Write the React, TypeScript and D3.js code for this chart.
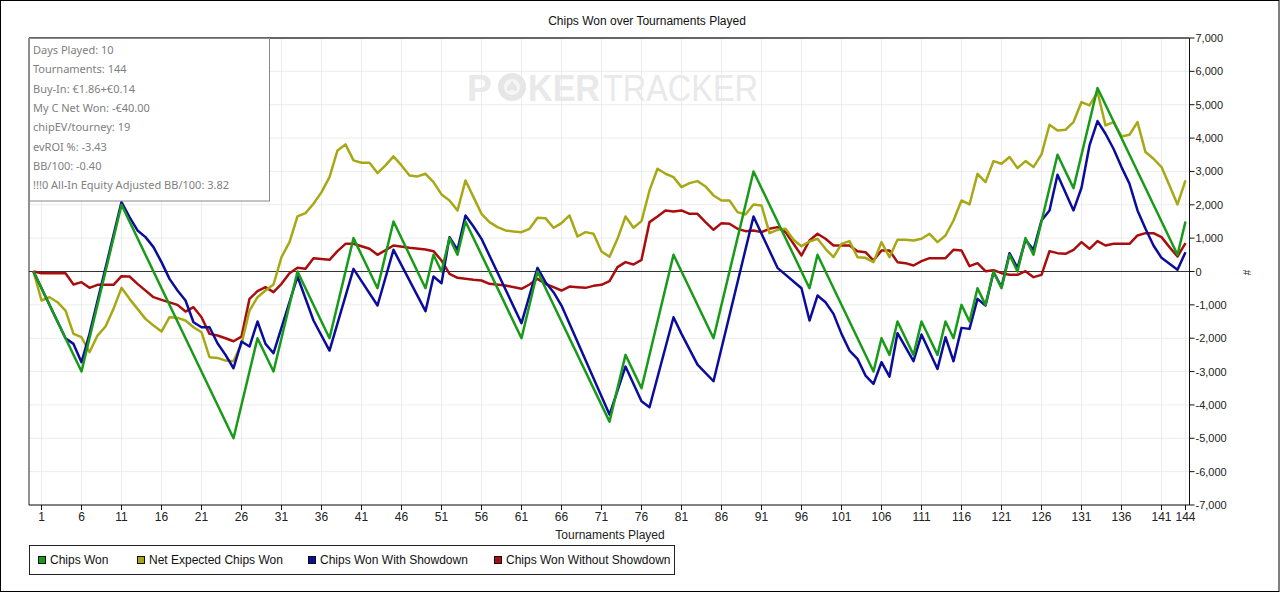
import * as d3 from 'd3';
import React from 'react';

type Pt = [number, number];

// tournament index, chips
const chipsWon: Pt[] = [
    [0, 0], [6, -3000], [11, 2000], [25, -5000], [28, -2000], [30, -3000], [33, 0], [37, -2000],
    [40, 1000], [43, -500], [45, 1500], [49, -500], [50, 500], [51, 0], [52, 1000], [53, 500],
    [54, 1500], [61, -2000], [63, 0], [72, -4500], [74, -2500], [76, -3500], [80, 500], [85, -2000],
    [90, 3000], [97, -500], [98, 500], [105, -3000], [106, -2000], [107, -2500], [108, -1500],
    [110, -2500], [111, -1500], [113, -2500], [114, -1500], [115, -2000], [116, -1000], [117, -1500],
    [118, -500], [119, -1000], [120, 0], [121, -500], [122, 500], [123, 0], [124, 1000], [125, 500],
    [128, 3500], [130, 2500], [133, 5500], [143, 500], [144, 1500],
];

const netExpected: Pt[] = [
    [0, 0], [1, -870], [2, -770], [3, -920], [4, -1170], [5, -1870], [6, -1970], [7, -2420],
    [8, -1920], [9, -1650], [10, -1120], [11, -490], [12, -820], [13, -1120], [14, -1420],
    [15, -1620], [16, -1800], [17, -1370], [18, -1390], [19, -1470], [20, -1670], [21, -1820],
    [22, -2570], [23, -2590], [24, -2670], [25, -2690], [26, -2170], [27, -1170], [28, -770],
    [29, -570], [30, -390], [31, 430], [32, 880], [33, 1650], [34, 1750], [35, 2030], [36, 2380],
    [37, 2830], [38, 3630], [39, 3810], [40, 3330], [41, 3260], [42, 3260], [43, 2950], [44, 3180],
    [45, 3450], [46, 3180], [47, 2880], [48, 2850], [49, 2930], [50, 2680], [51, 2310], [52, 2130],
    [53, 1830], [54, 2730], [55, 2230], [56, 1730], [57, 1480], [58, 1330], [59, 1230], [60, 1200],
    [61, 1180], [62, 1280], [63, 1610], [64, 1600], [65, 1310], [66, 1450], [67, 1680], [68, 1050],
    [69, 1180], [70, 1130], [71, 600], [72, 440], [73, 980], [74, 1650], [75, 1310], [76, 1510],
    [77, 2430], [78, 3080], [79, 2930], [80, 2830], [81, 2530], [82, 2650], [83, 2710], [84, 2550],
    [85, 2280], [86, 2130], [87, 2130], [88, 1780], [89, 1710], [90, 2010], [91, 1980], [92, 1150],
    [93, 1250], [94, 1280], [95, 950], [96, 760], [97, 900], [98, 980], [99, 680], [100, 430],
    [101, 830], [102, 910], [103, 430], [104, 410], [105, 280], [106, 880], [107, 430], [108, 950],
    [109, 950], [110, 930], [111, 980], [112, 1130], [113, 880], [114, 1080], [115, 1530],
    [116, 2130], [117, 2010], [118, 2930], [119, 2680], [120, 3310], [121, 3230], [122, 3430],
    [123, 3100], [124, 3310], [125, 3130], [126, 3510], [127, 4400], [128, 4230], [129, 4250],
    [130, 4480], [131, 5080], [132, 4980], [133, 5380], [134, 4380], [135, 4480], [136, 4050],
    [137, 4100], [138, 4480], [139, 3580], [140, 3380], [141, 3130], [142, 2580], [143, 2010],
    [144, 2730],
];

const withShowdown: Pt[] = [
    [0, 0], [4, -2000], [5, -2170], [6, -2720], [7, -1870], [11, 2080], [12, 1630], [13, 1230],
    [14, 1030], [15, 730], [16, 280], [17, -220], [18, -570], [19, -870], [20, -1520], [21, -1670],
    [22, -1670], [23, -2150], [24, -2500], [25, -2900], [26, -2100], [27, -2250], [28, -1500],
    [29, -2170], [30, -2450], [33, -150], [35, -1470], [37, -2370], [40, 80], [43, -1020],
    [45, 650], [49, -1190], [50, -150], [51, -350], [52, 1030], [53, 650], [54, 1680], [55, 1350],
    [56, 980], [61, -1550], [63, 110], [64, -320], [65, -620], [66, -1020], [72, -4290],
    [74, -2850], [76, -3890], [77, -4070], [80, -1370], [81, -1870], [83, -2790], [85, -3290],
    [90, 1650], [93, 110], [96, -500], [97, -1470], [98, -720], [99, -920], [100, -1270],
    [101, -1870], [102, -2370], [103, -2620], [104, -3120], [105, -3370], [106, -2720],
    [107, -3150], [108, -1850], [110, -2690], [111, -1890], [113, -2920], [114, -1970],
    [115, -2690], [116, -1690], [117, -1720], [118, -820], [119, -1020], [120, -20], [121, -470],
    [122, 550], [123, 110], [124, 950], [125, 650], [126, 1530], [127, 1830], [128, 2900],
    [130, 1830], [131, 2510], [132, 3780], [133, 4510], [134, 4130], [135, 3680], [136, 3130],
    [137, 2630], [138, 1830], [139, 1280], [140, 780], [141, 410], [142, 230], [143, 50], [144, 580],
];

const withoutShowdown: Pt[] = [
    [0, 0], [1, -50], [4, -50], [5, -390], [6, -320], [7, -490], [8, -400], [10, -400], [11, -140],
    [12, -150], [13, -370], [15, -770], [16, -850], [18, -1000], [19, -1200], [20, -1070],
    [21, -1370], [22, -1870], [23, -1920], [24, -2000], [25, -2090], [26, -1950], [27, -820],
    [28, -590], [29, -470], [30, -620], [31, -370], [32, -50], [33, 110], [34, 80], [35, 400],
    [37, 350], [38, 610], [39, 830], [40, 830], [42, 680], [43, 500], [45, 780], [47, 710],
    [49, 660], [50, 610], [51, 330], [52, -70], [53, -190], [55, -250], [56, -270], [57, -370],
    [59, -420], [61, -520], [62, -390], [63, -220], [64, -370], [65, -470], [66, -570], [67, -450],
    [68, -470], [69, -490], [70, -430], [71, -400], [72, -290], [73, 130], [74, 280], [75, 210],
    [76, 350], [77, 1480], [78, 1650], [79, 1830], [80, 1800], [81, 1830], [82, 1730], [83, 1730],
    [84, 1480], [85, 1250], [86, 1450], [87, 1430], [88, 1280], [89, 1210], [90, 1230], [91, 1180],
    [92, 1280], [93, 1330], [94, 1180], [95, 830], [96, 480], [97, 930], [98, 1130], [99, 980],
    [100, 780], [102, 780], [103, 610], [104, 580], [105, 330], [106, 630], [107, 630], [108, 280],
    [109, 250], [110, 180], [111, 310], [112, 400], [114, 400], [115, 650], [116, 630], [117, 160],
    [118, 250], [119, 10], [120, 40], [121, -50], [122, -100], [123, -100], [124, 10], [125, -170],
    [126, -100], [127, 610], [128, 550], [129, 530], [130, 650], [131, 880], [132, 680], [133, 910],
    [134, 780], [135, 830], [137, 830], [138, 1080], [139, 1150], [140, 1150], [141, 1030],
    [142, 730], [143, 450], [144, 850],
];

const xTicks = [1, 6, 11, 16, 21, 26, 31, 36, 41, 46, 51, 56, 61, 66, 71, 76, 81, 86, 91, 96, 101, 106, 111, 116, 121, 126, 131, 136, 141, 144];
const yTicks = [-7000, -6000, -5000, -4000, -3000, -2000, -1000, 0, 1000, 2000, 3000, 4000, 5000, 6000, 7000];

const infoLines = [
    'Days Played: 10',
    'Tournaments: 144',
    'Buy-In: €1.86+€0.14',
    'My C Net Won: -€40.00',
    'chipEV/tourney: 19',
    'evROI %: -3.43',
    'BB/100: -0.40',
    '!!!0 All-In Equity Adjusted BB/100: 3.82',
];

const series = [
    { name: 'Chips Won', colour: '#1a9a1a', data: chipsWon, legendX: 38 },
    { name: 'Net Expected Chips Won', colour: '#a8a816', data: netExpected, legendX: 137 },
    { name: 'Chips Won With Showdown', colour: '#0c0c9c', data: withShowdown, legendX: 308 },
    { name: 'Chips Won Without Showdown', colour: '#aa0d0d', data: withoutShowdown, legendX: 494 },
];
const drawOrder = [3, 1, 2, 0];

const W = 1280;
const H = 593;
const left = 29;
const right = 1189.5;
const top = 38;
const bottom = 505;

const font = '"Liberation Sans", Arial, sans-serif';

const App = () => {
    const x = d3.scaleLinear().domain([0, 144]).range([33.5, 1185.5]);
    const y = d3.scaleLinear().domain([-7000, 7000]).range([bottom, top]);
    const fmt = d3.format(',');
    const line = d3.line<Pt>().x((d) => x(d[0])).y((d) => y(d[1]));

    return (
        <div style={{ position: 'absolute', left: 0, top: 0 }}>
            <svg width={W} height={H} style={{ display: 'block' }}>
                <rect x={0} y={0} width={W} height={H} fill="#fff" />
                <rect x={0.5} y={0.5} width={1278.5} height={591} fill="none" stroke="#000" />

                <text x={647} y={25} textAnchor="middle" fontFamily={font} fontSize={12} fill="#111">
                    Chips Won over Tournaments Played
                </text>

                {/* grid */}
                {xTicks.map((t) => (
                    <line key={'gx' + t} x1={x(t)} x2={x(t)} y1={top} y2={bottom} stroke="#ececec" />
                ))}
                {yTicks.map((v) => (
                    <line key={'gy' + v} x1={left} x2={right} y1={y(v)} y2={y(v)} stroke="#ececec" />
                ))}

                {/* watermark */}
                <g fill="#e9e9e9" fontFamily={font} fontSize={37}>
                    <text x={467} y={101} fontWeight="bold">P</text>
                    <circle cx={512} cy={87} r={14} fill="#e6e6e6" />
                    <circle cx={512} cy={87} r={8} fill="#f6f6f6" />
                    <path d="M512,81 C509,85 506,87 507,90 C508,92 511,91 512,89 C513,91 516,92 517,90 C518,87 515,85 512,81 Z" fill="#e6e6e6" />
                    <text x={528} y={101} fontWeight="bold" textLength={72} lengthAdjust="spacingAndGlyphs">KER</text>
                    <text x={603} y={101} textLength={155} lengthAdjust="spacingAndGlyphs">TRACKER</text>
                </g>

                {/* zero line */}
                <line x1={left} x2={right} y1={y(0)} y2={y(0)} stroke="#333" />

                {/* series */}
                {drawOrder.map((i) => (
                    <path
                        key={series[i].name}
                        d={line(series[i].data) || ''}
                        fill="none"
                        stroke={series[i].colour}
                        strokeWidth={2.5}
                        strokeLinejoin="round"
                    />
                ))}

                {/* plot frame */}
                <line x1={left} x2={right} y1={top} y2={top} stroke="#666" strokeWidth={2} />
                <line x1={left} x2={left} y1={top} y2={bottom} stroke="#222" />
                <line x1={left} x2={right} y1={bottom} y2={bottom} stroke="#111" />
                <line x1={right} x2={right} y1={top} y2={bottom} stroke="#111" />

                {/* x axis */}
                {xTicks.map((t) => (
                    <g key={'xt' + t}>
                        <line x1={x(t)} x2={x(t)} y1={bottom} y2={bottom + 5} stroke="#111" />
                        <text x={x(t)} y={521} textAnchor="middle" fontFamily={font} fontSize={12} fill="#222">
                            {t}
                        </text>
                    </g>
                ))}
                <text x={610} y={539} textAnchor="middle" fontFamily={font} fontSize={12} fill="#222">
                    Tournaments Played
                </text>

                {/* y axis */}
                {yTicks.map((v) => (
                    <g key={'yt' + v}>
                        <line x1={right} x2={right + 5} y1={y(v)} y2={y(v)} stroke="#111" />
                        <text x={right + 6} y={y(v) + 4} fontFamily={font} fontSize={11} fill="#222">
                            {fmt(v).replace('−', '-')}
                        </text>
                    </g>
                ))}
                <text
                    transform={`translate(1243,${y(0) + 1}) rotate(90)`}
                    textAnchor="middle"
                    fontFamily={font}
                    fontSize={10}
                    fill="#333"
                >
                    #
                </text>

                {/* info box */}
                <rect x={29.5} y={38.5} width={240} height={162.5} fill="#fff" stroke="#8a8a8a" />
                {infoLines.map((s, i) => (
                    <text
                        key={s}
                        x={33}
                        y={54 + i * 19.3}
                        fontFamily='"Noto Sans", "Open Sans", sans-serif'
                        fontSize={11}
                        fill="#808080"
                    >
                        {s}
                    </text>
                ))}

                {/* legend */}
                <rect x={29.5} y={545.5} width={645} height={29} fill="#fff" stroke="#222" />
                {series.map((s) => (
                    <g key={'lg' + s.name}>
                        <rect x={s.legendX + 0.5} y={556.5} width={7} height={7} fill={s.colour} stroke="#111" />
                        <text x={s.legendX + 12} y={564} fontFamily={font} fontSize={12} fill="#111">
                            {s.name}
                        </text>
                    </g>
                ))}
            </svg>
        </div>
    );
};

export default App;
